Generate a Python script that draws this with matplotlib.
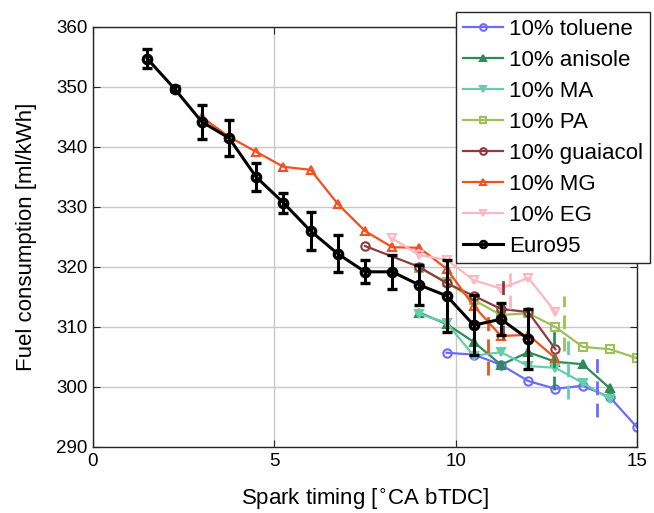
import numpy as np
import matplotlib
matplotlib.use("Agg")
import matplotlib.pyplot as plt
from matplotlib.lines import Line2D

plt.rcParams['font.family'] = ['Liberation Sans', 'DejaVu Sans']

# spark timing steps (deg CA bTDC)
x_euro = [1.5, 2.25, 3, 3.75, 4.5, 5.25, 6, 6.75, 7.5, 8.25, 9, 9.75, 10.5, 11.25, 12]
y_euro = [354.7, 349.7, 344.2, 341.5, 335.0, 330.7, 326.0, 322.2, 319.2, 319.2, 317.0, 315.2, 310.3, 311.3, 308.0]
e_euro = [1.6, 0.4, 2.8, 3.0, 2.3, 1.7, 3.2, 3.1, 1.9, 2.8, 3.4, 6.0, 5.0, 2.7, 5.0]

x_toluene = [9.75, 10.5, 11.25, 12, 12.75, 13.5, 14.25, 15]
y_toluene = [305.7, 305.4, 303.7, 301.0, 299.7, 300.2, 298.3, 293.3]

x_anisole = [9, 9.75, 10.5, 11.25, 12, 12.75, 13.5, 14.25]
y_anisole = [312.4, 310.5, 307.5, 303.7, 305.8, 304.2, 303.8, 299.8]

x_ma = [9, 9.75, 10.5, 11.25, 12, 12.75, 13.5, 14.25]
y_ma = [312.2, 310.7, 305.2, 305.8, 303.5, 303.2, 300.7, 298.0]

x_pa = [9, 9.75, 10.5, 11.25, 12, 12.75, 13.5, 14.25, 15]
y_pa = [319.8, 317.5, 314.5, 312.0, 312.3, 310.0, 306.7, 306.3, 304.8]

x_guaiacol = [7.5, 9, 9.75, 10.5, 11.25, 12, 12.75]
y_guaiacol = [323.5, 320.0, 317.3, 315.2, 313.0, 312.5, 306.3]

x_mg = [3, 3.75, 4.5, 5.25, 6, 6.75, 7.5, 8.25, 9, 9.75, 10.5, 11.25, 12, 12.75]
y_mg = [345.0, 341.7, 339.2, 336.7, 336.2, 330.5, 326.0, 323.3, 323.2, 319.7, 313.5, 308.5, 308.7, 304.8]

x_eg = [8.25, 9, 9.75, 10.5, 11.25, 12, 12.75]
y_eg = [324.8, 322.0, 321.2, 317.8, 316.4, 318.2, 312.5]

# dashed vertical markers (x, y low, y high) per blend
lim_x = [13.9, 12.7, 13.1, 13.0, 11.3, 10.9, 11.5]
lim_lo = [295.0, 299.5, 298.0, 306.0, 308.0, 302.0, 313.0]
lim_hi = [305.0, 310.0, 308.0, 315.2, 318.3, 312.5, 319.2]

labels = ['10% toluene', '10% anisole', '10% MA', '10% PA',
          '10% guaiacol', '10% MG', '10% EG', 'Euro95']
colors = ['#6b6bff', '#2e8b57', '#66cdaa', '#9dc05a',
          '#8e3b3b', '#f2501e', '#ffb6c1']
markers = ['o', '^', 'v', 's', 'o', '^', 'v']
filled = [False, True, True, False, False, False, False]

xs = [x_toluene, x_anisole, x_ma, x_pa, x_guaiacol, x_mg, x_eg]
ys = [y_toluene, y_anisole, y_ma, y_pa, y_guaiacol, y_mg, y_eg]

fig = plt.figure(figsize=(6.54, 5.13), dpi=100)
ax = fig.add_axes([93/654, 66/513, 544/654, 420/513])

handles = []
for i in range(7):
    mfc = colors[i] if filled[i] else 'none'
    h, = ax.plot(xs[i], ys[i], color=colors[i], marker=markers[i], ms=6,
                 mfc=mfc, mew=1.5, lw=1.6, label=labels[i])
    handles.append(h)

for i in range(7):
    ax.vlines(lim_x[i], lim_lo[i], lim_hi[i], colors=colors[i], lw=2,
              linestyles=(0, (5, 3)))

ax.errorbar(x_euro, y_euro, yerr=e_euro, color='k', marker='o', ms=6,
            mfc='none', mew=2.4, lw=2.2, elinewidth=2.2, capsize=3.5,
            capthick=2.2, zorder=5)
handles.append(Line2D([], [], color='k', marker='o', ms=6, mfc='none',
                      mew=2, lw=2.2))

ax.set_xlim(0, 15)
ax.set_ylim(290, 360)
ax.set_xticks([0, 5, 10, 15])
ax.set_yticks(np.arange(290, 361, 10))
ax.grid(True, color='#c8c8c8', lw=1)
ax.set_axisbelow(True)
ax.tick_params(direction='in', top=True, right=True, length=5,
               labelsize=13.5, color='#262626', pad=4)
for s in ax.spines.values():
    s.set_color('#262626')
    s.set_linewidth(1)

ax.set_xlabel('Spark timing [$^{\\circ}$CA bTDC]', fontsize=16, labelpad=12)
ax.set_ylabel('Fuel consumption [ml/kWh]', fontsize=16, labelpad=14)

leg = ax.legend(handles, labels, loc='upper right',
                bbox_to_anchor=(650/654, 1 - 12/513),
                bbox_transform=fig.transFigure, fontsize=16, fancybox=False,
                framealpha=1, edgecolor='#262626', borderpad=0.3,
                labelspacing=0.45, handlelength=1.8, handletextpad=0.3,
                borderaxespad=0, markerscale=0.8)
leg.get_frame().set_linewidth(1)
leg.set_zorder(10)

fig.savefig('out.png', dpi=100)
